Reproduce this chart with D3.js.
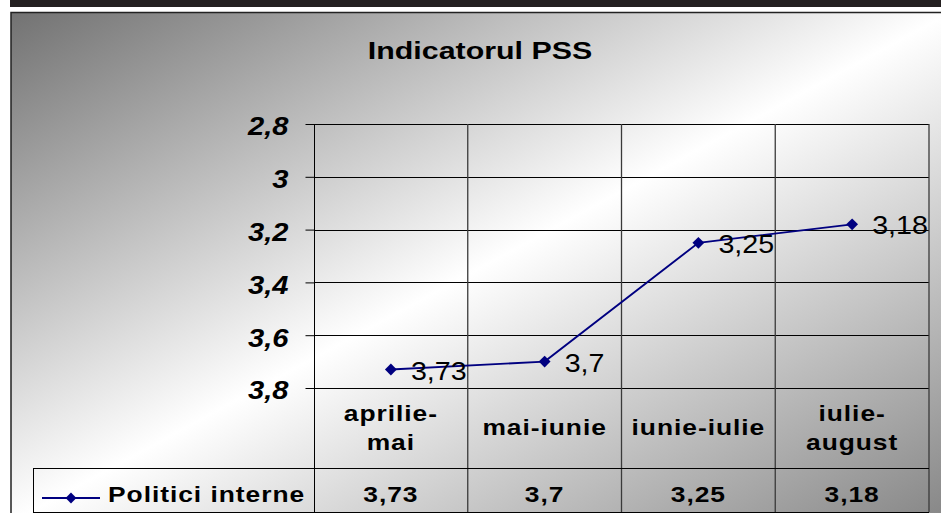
<!DOCTYPE html>
<html>
<head>
<meta charset="utf-8">
<script src="https://cdn.jsdelivr.net/npm/d3@7"></script>
<style>
  body { margin: 0; background: #fff; }
  svg { display: block; }
</style>
</head>
<body>
<script>
// Chart data
const categories = [["aprilie-", "mai"], ["mai-iunie"], ["iunie-iulie"], ["iulie-", "august"]];
const seriesName = "Politici interne";
const values = [3.73, 3.7, 3.25, 3.18];
const tickValues = [2.8, 3, 3.2, 3.4, 3.6, 3.8];
const title = "Indicatorul PSS";

const width = 941, height = 513;
// plot area
const plot = {left: 314, right: 929, top: 124, bottom: 388};
const tableRow = 468, tableBottom = 512, legendLeft = 33;

const ro = d3.formatLocale({decimal: ",", thousands: ".", grouping: [3], currency: ["", " lei"]});
const fmt = ro.format("~g");

const svg = d3.select("body")
    .append("svg")
    .attr("width", width)
    .attr("height", height)
    .attr("viewBox", `0 0 ${width} ${height}`);

// gradient background (dark corner -> white -> gray)
const defs = svg.append("defs");
const grad = defs.append("linearGradient")
    .attr("id", "bg")
    .attr("x1", 0).attr("y1", 0)
    .attr("x2", 1).attr("y2", 1);
grad.append("stop").attr("offset", 0).attr("stop-color", "#727272");
grad.append("stop").attr("offset", 0.5).attr("stop-color", "#ffffff");
grad.append("stop").attr("offset", 1).attr("stop-color", "#858585");

// dark band at top of page
svg.append("rect")
    .attr("x", 10).attr("y", 0)
    .attr("width", width - 10).attr("height", 7)
    .attr("fill", "#231f20");

// chart area
svg.append("rect")
    .attr("x", 11).attr("y", 12.5)
    .attr("width", 940).attr("height", 510)
    .attr("fill", "url(#bg)")
    .attr("stroke", "#222")
    .attr("stroke-width", 1.5);

// Scales
const x = d3.scaleBand()
    .domain(d3.range(categories.length))
    .range([plot.left, plot.right]);

const y = d3.scaleLinear()
    .domain([2.8, 3.8])
    .range([plot.top, plot.bottom]);

const font = "'Liberation Sans', Arial, sans-serif";

// Title
svg.append("text")
    .attr("transform", `translate(480,59) scale(1.24,1)`)
    .attr("text-anchor", "middle")
    .attr("font-family", font)
    .attr("font-weight", "bold")
    .attr("font-size", 24.5)
    .text(title);

// horizontal gridlines
svg.append("g")
    .selectAll("line")
    .data(tickValues)
    .join("line")
    .attr("x1", plot.left).attr("x2", plot.right)
    .attr("y1", d => Math.round(y(d)) + 0.5)
    .attr("y2", d => Math.round(y(d)) + 0.5)
    .attr("stroke", "#000")
    .attr("stroke-width", 1);

// vertical category lines (through plot and table)
svg.append("g")
    .selectAll("line")
    .data(d3.range(1, categories.length + 1))
    .join("line")
    .attr("x1", d => x(d - 1) + x.bandwidth())
    .attr("x2", d => x(d - 1) + x.bandwidth())
    .attr("y1", plot.top)
    .attr("y2", tableBottom)
    .attr("stroke", "#3a3a3a")
    .attr("stroke-width", 1.3);

// table horizontal lines
svg.append("line")
    .attr("x1", legendLeft).attr("x2", plot.right)
    .attr("y1", tableRow + 0.5).attr("y2", tableRow + 0.5)
    .attr("stroke", "#000");
svg.append("line")
    .attr("x1", legendLeft).attr("x2", plot.right)
    .attr("y1", tableBottom + 0.5).attr("y2", tableBottom + 0.5)
    .attr("stroke", "#000");
svg.append("line")
    .attr("x1", legendLeft + 0.5).attr("x2", legendLeft + 0.5)
    .attr("y1", tableRow).attr("y2", tableBottom)
    .attr("stroke", "#000");

// Y axis
const yAxis = d3.axisLeft(y)
    .tickValues(tickValues)
    .tickSize(9)
    .tickFormat(fmt);

const axisG = svg.append("g")
    .attr("transform", `translate(${plot.left + 0.5},0)`)
    .call(yAxis);
axisG.select(".domain").remove();
axisG.append("line")
    .attr("y1", plot.top).attr("y2", tableBottom)
    .attr("stroke", "#000");
axisG.selectAll(".tick line").attr("stroke", "#000");
axisG.selectAll(".tick text")
    .attr("x", 0)
    .attr("dy", "0.38em")
    .attr("transform", "translate(-26,1) scale(1.12,1)")
    .attr("fill", "#000")
    .attr("font-family", font)
    .attr("font-weight", "bold")
    .attr("font-style", "italic")
    .attr("font-size", 26)
    .attr("text-anchor", "end");

// Line series
const cx = i => x(i) + x.bandwidth() / 2;
svg.append("path")
    .datum(values)
    .attr("fill", "none")
    .attr("stroke", "#000080")
    .attr("stroke-width", 1.9)
    .attr("d", d3.line().x((d, i) => cx(i)).y(d => y(d)));

const diamond = d3.symbol(d3.symbolSquare, 70);
svg.append("g")
    .selectAll("path")
    .data(values)
    .join("path")
    .attr("d", diamond)
    .attr("transform", (d, i) => `translate(${cx(i)},${y(d)}) rotate(45)`)
    .attr("fill", "#000080");

// Data labels
svg.append("g")
    .selectAll("text")
    .data(values)
    .join("text")
    .attr("transform", (d, i) => `translate(${cx(i) + 20},${y(d) + 10}) scale(1.08,1)`)
    .attr("font-family", font)
    .attr("font-size", 26.5)
    .attr("fill", "#000")
    .text(d => fmt(d));

// Data table: category row
const tableText = sel => sel
    .attr("font-family", font)
    .attr("font-weight", "bold")
    .attr("font-size", 22)
    .attr("letter-spacing", 0.8)
    .attr("fill", "#000");

const catG = svg.append("g")
    .selectAll("g")
    .data(categories)
    .join("g");
catG.selectAll("text")
    .data(d => d.map((t, j) => ({t, j, n: d.length})))
    .join("text")
    .attr("transform", function(d) {
        const i = categories.indexOf(d3.select(this.parentNode).datum());
        const by = d.n === 1 ? 435 : 420.5 + d.j * 29;
        return `translate(${cx(i)},${by}) scale(1.2,1)`;
    })
    .attr("text-anchor", "middle")
    .call(tableText)
    .text(d => d.t);

// values row
svg.append("g")
    .selectAll("text")
    .data(values)
    .join("text")
    .attr("transform", (d, i) => `translate(${cx(i)},502) scale(1.2,1)`)
    .attr("text-anchor", "middle")
    .call(tableText)
    .text(d => fmt(d));

// legend key in table
const legend = svg.append("g");
legend.append("line")
    .attr("x1", 42).attr("x2", 100)
    .attr("y1", 498).attr("y2", 498)
    .attr("stroke", "#000080")
    .attr("stroke-width", 1.8);
legend.append("path")
    .attr("d", d3.symbol(d3.symbolSquare, 58))
    .attr("transform", "translate(71,498) rotate(45)")
    .attr("fill", "#000080");
legend.append("text")
    .attr("transform", "translate(108,502) scale(1.2,1)")
    .call(tableText)
    .text(seriesName);
</script>
</body>
</html>
